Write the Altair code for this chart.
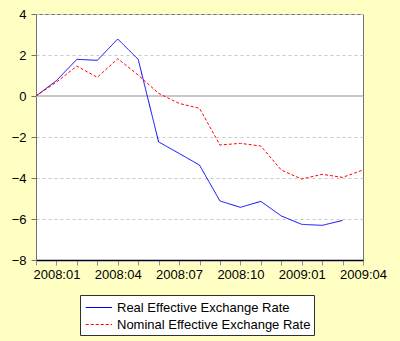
import altair as alt
import pandas as pd

months = ["2007:12", "2008:01", "2008:02", "2008:03", "2008:04", "2008:05",
          "2008:06", "2008:07", "2008:08", "2008:09", "2008:10", "2008:11",
          "2008:12", "2009:01", "2009:02", "2009:03", "2009:04"]
real = [0.0, 0.75, 1.79, 1.74, 2.78, 1.79, -2.24, -2.80, -3.37, -5.12, -5.43,
        -5.14, -5.85, -6.26, -6.31, -6.07, None]
nominal = [0.0, 0.68, 1.46, 0.91, 1.82, 1.02, 0.13, -0.36, -0.60, -2.39, -2.31,
           -2.44, -3.61, -4.05, -3.82, -3.97, -3.61]
labeled = ["2008:01", "2008:04", "2008:07", "2008:10", "2009:01", "2009:04"]
series_names = ["Real Effective Exchange Rate", "Nominal Effective Exchange Rate"]
y_ticks = [-8, -6, -4, -2, 0, 2, 4]

rows = []
for i, m in enumerate(months):
    if real[i] is not None:
        rows.append({"month": m, "value": real[i], "series": series_names[0]})
    rows.append({"month": m, "value": nominal[i], "series": series_names[1]})
df = pd.DataFrame(rows)

FONT = "Liberation Sans"
label_list = "[" + ",".join("'" + l + "'" for l in labeled) + "]"

x_enc = alt.X(
    "month:O",
    scale=alt.Scale(type="point", padding=0, domain=months),
    axis=alt.Axis(
        title=None, labelAngle=0, grid=False, tickSize=5, labelOverlap=False,
        labelExpr="indexof(" + label_list + ", datum.value) >= 0 ? datum.label : ''",
        labelFontSize=13, labelFont=FONT, labelColor="#000000", labelPadding=3,
        domainColor="#000030", domainWidth=1.5, tickColor="#909090",
    ),
)
y_enc = alt.Y(
    "value:Q",
    scale=alt.Scale(domain=[-8, 4], nice=False),
    axis=alt.Axis(
        title=None, values=y_ticks, grid=True, gridDash=[3, 3], gridColor="#c8c8c8",
        tickSize=5, labelFontSize=13, labelFont=FONT, labelColor="#000000",
        labelPadding=5, domainColor="#707070", tickColor="#707070",
    ),
)

legend = alt.Legend(
    title=None, orient="none", legendX=44, legendY=281,
    symbolType="M-0.8,0H2.3", symbolSize=289, symbolStrokeWidth=1.2,
    labelFontSize=13, labelFont=FONT, labelColor="#000000", labelOffset=15,
    strokeColor="#303030", fillColor="#ffffff", padding=3, rowPadding=0,
    labelLimit=400,
)

lines = alt.Chart(df).mark_line(strokeWidth=1).encode(
    x=x_enc,
    y=y_enc,
    color=alt.Color("series:N", scale=alt.Scale(domain=series_names, range=["#0000ff", "#ff0000"]), legend=legend),
    strokeDash=alt.StrokeDash("series:N", scale=alt.Scale(domain=series_names, range=[[1, 0], [3, 2]]), legend=legend),
)

zero = alt.Chart(pd.DataFrame({"y": [0]})).mark_rule(color="#c8c8c8", strokeWidth=2).encode(
    y=alt.Y("y:Q")
)

chart = alt.layer(zero, lines).properties(
    width=327, height=246,
    background="#ffffc4",
    padding={"left": 36, "top": 14, "right": 37, "bottom": 81},
    autosize=alt.AutoSizeParams(type="none"),
).configure_view(
    stroke="#707070", fill="#ffffff"
)

chart.save("out.html", embed_options={"renderer": "svg", "actions": False})
